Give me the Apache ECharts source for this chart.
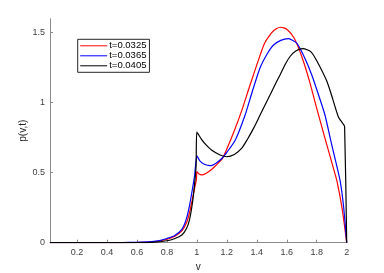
<!DOCTYPE html>
<html><head><meta charset="utf-8">
<script src="https://cdn.jsdelivr.net/npm/echarts@6/dist/echarts.min.js"></script>
<style>html,body{margin:0;padding:0;background:#fff}#c{width:384px;height:273px}</style>
</head><body><div id="c"></div>
<script>
const seriesNames = ['t=0.0325', 't=0.0365', 't=0.0405'];
const xTicks = [0.2, 0.4, 0.6, 0.8, 1, 1.2, 1.4, 1.6, 1.8, 2];
const yTicks = [0, 0.5, 1, 1.5];

const vRed = [0.02, 0.5, 0.6, 0.7, 0.75, 0.8, 0.85, 0.9, 0.93, 0.95, 0.97, 0.985, 0.997, 1.0, 1.015, 1.033, 1.06, 1.1, 1.13, 1.17, 1.2, 1.25, 1.3, 1.35, 1.4, 1.45, 1.5, 1.53, 1.56, 1.6, 1.65, 1.7, 1.75, 1.8, 1.85, 1.9, 1.935, 1.97, 2.0];
const pRed = [0, 0.0005, 0.002, 0.006, 0.012, 0.025, 0.045, 0.085, 0.14, 0.21, 0.31, 0.39, 0.45, 0.507, 0.49, 0.484, 0.495, 0.525, 0.555, 0.60, 0.67, 0.80, 0.945, 1.11, 1.27, 1.42, 1.50, 1.528, 1.539, 1.525, 1.46, 1.33, 1.16, 0.96, 0.765, 0.575, 0.44, 0.24, 0];

const vBlue = [0.02, 0.5, 0.6, 0.7, 0.75, 0.8, 0.85, 0.9, 0.93, 0.95, 0.97, 0.985, 1.0, 1.02, 1.05, 1.089, 1.13, 1.17, 1.2, 1.257, 1.322, 1.37, 1.422, 1.47, 1.51, 1.56, 1.611, 1.668, 1.72, 1.767, 1.82, 1.855, 1.9, 1.955, 1.98, 2.0];
const pBlue = [0, 0.001, 0.003, 0.008, 0.015, 0.03, 0.05, 0.095, 0.17, 0.26, 0.38, 0.48, 0.62, 0.585, 0.56, 0.55, 0.57, 0.605, 0.645, 0.734, 0.912, 1.08, 1.25, 1.35, 1.41, 1.445, 1.457, 1.424, 1.32, 1.198, 1.03, 0.912, 0.70, 0.448, 0.25, 0];

const vBlack = [0.02, 0.6, 0.7, 0.8, 0.85, 0.9, 0.93, 0.95, 0.97, 0.985, 0.995, 1.0, 1.03, 1.06, 1.1, 1.155, 1.2, 1.25, 1.3, 1.335, 1.38, 1.422, 1.47, 1.52, 1.555, 1.59, 1.622, 1.66, 1.71, 1.76, 1.8, 1.867, 1.9, 1.944, 1.973, 1.986, 2.0];
const pBlack = [0, 0.001, 0.003, 0.014, 0.028, 0.055, 0.1, 0.16, 0.28, 0.42, 0.55, 0.79, 0.74, 0.70, 0.66, 0.626, 0.614, 0.63, 0.675, 0.734, 0.82, 0.912, 1.015, 1.125, 1.198, 1.275, 1.33, 1.37, 1.386, 1.365, 1.30, 1.155, 1.05, 0.9, 0.853, 0.83, 0];

const colors = ['#ff0000', '#0000ff', '#000000'];
const zip = (a, b) => a.map((v, i) => [v, b[i]]);
const datasets = [zip(vRed, pRed), zip(vBlue, pBlue), zip(vBlack, pBlack)];

const font = '"Liberation Sans", Arial, sans-serif';
const chart = echarts.init(document.getElementById('c'), null, {renderer: 'canvas'});
chart.setOption({
  animation: false,
  backgroundColor: '#ffffff',
  grid: {left: 50, right: 37.3, top: 18.7, bottom: 30.3, containLabel: false, outerBoundsMode: 'none'},
  legend: {
    orient: 'vertical', left: 77.7, top: 39.3,
    data: seriesNames,
    itemWidth: 27, itemHeight: 11, itemGap: 0,
    padding: [1.5, 3, 1.5, 2],
    borderColor: '#262626', borderWidth: 1,
    itemStyle: {opacity: 0},
    lineStyle: {width: 1},
    textStyle: {fontSize: 9.5, color: '#000', fontFamily: font, padding: [0, 0, 0, -3]}
  },
  xAxis: {
    type: 'value', min: 0.02, max: 2,
    name: 'v', nameLocation: 'middle', nameGap: 20, nameMoveOverlap: false,
    nameTextStyle: {fontSize: 10, color: '#262626', fontFamily: font},
    axisLine: {show: true, lineStyle: {color: '#8a8a8a', width: 1}},
    axisTick: {show: true, inside: true, length: 3, lineStyle: {color: '#8a8a8a'}, customValues: xTicks},
    axisLabel: {fontSize: 9, color: '#404040', fontFamily: font, margin: 5, customValues: xTicks},
    splitLine: {show: false}
  },
  yAxis: {
    type: 'value', min: 0, max: 1.6,
    name: 'p(v,t)', nameLocation: 'middle', nameGap: 22, nameRotate: 90, nameMoveOverlap: false,
    nameTextStyle: {fontSize: 10, color: '#262626', fontFamily: font},
    axisLine: {show: true, lineStyle: {color: '#8a8a8a', width: 1}},
    axisTick: {show: true, inside: true, length: 3, lineStyle: {color: '#8a8a8a'}, customValues: yTicks},
    axisLabel: {fontSize: 9, color: '#404040', fontFamily: font, margin: 5, customValues: yTicks},
    splitLine: {show: false}
  },
  series: seriesNames.map((n, i) => ({
    name: n, type: 'line', data: datasets[i],
    showSymbol: false, symbol: 'none',
    smooth: 0.2,
    lineStyle: {color: colors[i], width: 1.2},
    itemStyle: {color: colors[i]}
  }))
});
</script></body></html>
